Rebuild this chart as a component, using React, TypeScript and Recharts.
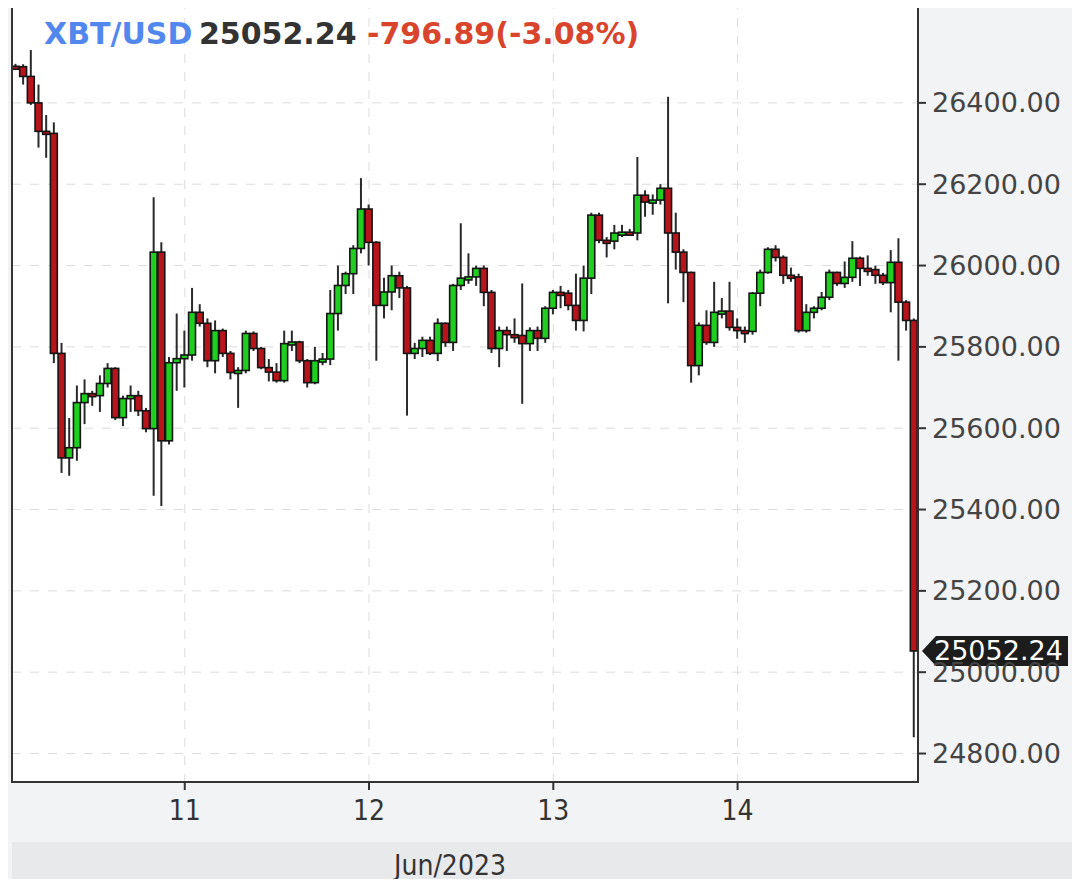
import React from 'react';
import { ComposedChart, Bar, XAxis, YAxis, CartesianGrid, ReferenceLine } from 'recharts';

// hourly candles, Jun 10 02:00 -> Jun 14 23:00
const opens = [
  26490, 26489, 26465, 26400, 26330, 26325, 25784, 25527, 25552, 25663,
  25685, 25680, 25710, 25747, 25626, 25673, 25680, 25643, 25599, 26033,
  25569, 25761, 25771, 25780, 25885, 25858, 25766, 25840, 25784, 25737,
  25742, 25833, 25796, 25749, 25738, 25717, 25808, 25812, 25766, 25712,
  25766, 25770, 25882, 25951, 25980, 26042, 26139, 26057, 25902, 25935,
  25975, 25945, 25784, 25796, 25816, 25784, 25858, 25811, 25951, 25969,
  25972, 25993, 25934, 25796, 25840, 25830, 25828, 25808, 25840, 25821,
  25895, 25934, 25932, 25902, 25865, 25969, 26124, 26062, 26060, 26080,
  26082, 26080, 26173, 26156, 26161, 26190, 26080, 26033, 25983, 25754,
  25853, 25811, 25885, 25888, 25848, 25840, 25838, 25932, 25983, 26040,
  26020, 25976, 25972, 25840, 25885, 25895, 25922, 25983, 25956, 25971,
  26018, 25993, 25990, 25976, 25958, 26008, 25910, 25865,
];
const closes = [
  26488, 26465, 26400, 26330, 26325, 25784, 25527, 25552, 25663, 25685,
  25680, 25710, 25747, 25626, 25673, 25680, 25643, 25599, 26033, 25569,
  25761, 25771, 25780, 25885, 25858, 25766, 25840, 25784, 25737, 25742,
  25833, 25796, 25749, 25738, 25717, 25808, 25812, 25766, 25712, 25766,
  25770, 25882, 25951, 25980, 26042, 26139, 26057, 25902, 25935, 25975,
  25945, 25784, 25796, 25816, 25784, 25858, 25811, 25951, 25969, 25972,
  25993, 25934, 25796, 25840, 25830, 25828, 25808, 25840, 25821, 25895,
  25934, 25932, 25902, 25865, 25969, 26124, 26062, 26060, 26080, 26082,
  26080, 26173, 26156, 26161, 26190, 26080, 26033, 25983, 25754, 25853,
  25811, 25885, 25888, 25848, 25840, 25838, 25932, 25983, 26040, 26020,
  25976, 25972, 25840, 25885, 25895, 25922, 25983, 25956, 25971, 26018,
  25993, 25990, 25976, 25958, 26008, 25910, 25865, 25052.24,
];
const highs = [
  26496, 26495, 26530, 26445, 26370, 26352, 25810, 25625, 25705, 25720,
  25692, 25730, 25760, 25750, 25680, 25705, 25692, 25650, 26168, 26057,
  25775, 25882, 25840, 25945, 25905, 25870, 25865, 25845, 25790, 25750,
  25840, 25838, 25800, 25770, 25760, 25840, 25840, 25815, 25770, 25800,
  25785, 25940, 26000, 25985, 26050, 26215, 26150, 26060, 25970, 26000,
  25985, 25950, 25810, 25825, 25825, 25870, 25860, 25955, 26104, 26030,
  26000, 26000, 25940, 25850, 25850, 25870, 25956, 25848, 25850, 25900,
  25940, 25950, 25940, 25980, 26000, 26130, 26130, 26070, 26100, 26100,
  26090, 26267, 26185, 26175, 26200, 26415, 26130, 26040, 25985, 25860,
  25890, 25960, 25920, 25960, 25870, 25850, 25935, 25990, 26045, 26050,
  26025, 25995, 25980, 25905, 25900, 25935, 25990, 25985, 26010, 26060,
  26022, 26025, 26000, 25982, 26038, 26067, 25915, 25870,
];
const lows = [
  26482, 26445, 26395, 26290, 26265, 25760, 25490, 25483, 25520, 25610,
  25655, 25640, 25700, 25620, 25605, 25640, 25630, 25590, 25434, 25409,
  25560, 25692, 25700, 25766, 25850, 25750, 25735, 25775, 25720, 25650,
  25735, 25790, 25745, 25715, 25712, 25712, 25790, 25760, 25700, 25708,
  25755, 25755, 25840, 25930, 25930, 26030, 26000, 25766, 25870, 25890,
  25920, 25631, 25770, 25775, 25780, 25765, 25800, 25790, 25940, 25955,
  25950, 25900, 25785, 25750, 25790, 25810, 25660, 25790, 25790, 25810,
  25880, 25895, 25890, 25840, 25838, 25930, 26055, 26020, 26040, 26070,
  26075, 26062, 26120, 26125, 26150, 25907, 25990, 25910, 25712, 25730,
  25805, 25800, 25870, 25840, 25820, 25810, 25830, 25900, 25980, 26010,
  25955, 25960, 25835, 25835, 25870, 25890, 25915, 25950, 25945, 25960,
  25950, 25975, 25955, 25952, 25885, 25766, 25840, 24840,
];
// hour index from Jun 10 00:00
const hours = opens.map((_, i) => i + 2);

const dayTicks = [24, 48, 72, 96];
const dayLabels = ['11', '12', '13', '14'];
const yTicks = [24800, 25000, 25200, 25400, 25600, 25800, 26000, 26200, 26400];

const lastPrice = 25052.24;

const data = hours.map((h, i) => ({
  h,
  open: opens[i],
  high: highs[i],
  low: lows[i],
  close: closes[i],
  range: [lows[i], highs[i]],
}));

const Candle = (props: any) => {
  const { x, y, width, height, payload } = props;
  const { open, close, high, low } = payload;
  const top = Math.min(y, y + height);
  const h = Math.abs(height);
  const k = h / (high - low || 1);
  const yOf = (v: number) => top + (high - v) * k;
  const up = close >= open;
  const bTop = yOf(Math.max(open, close));
  const bBot = yOf(Math.min(open, close));
  const cx = x + width / 2;
  return (
    <g>
      <line x1={cx} x2={cx} y1={top} y2={top + h} stroke="#2a2a2a" strokeWidth={2} />
      <rect
        x={x}
        y={bTop}
        width={width}
        height={Math.max(bBot - bTop, 3)}
        fill={up ? '#1fcf1f' : '#b8141c'}
        stroke="#151515"
        strokeWidth={1.6}
      />
    </g>
  );
};

const PriceTag = (props: any) => {
  const { viewBox } = props;
  const y = viewBox.y;
  const x0 = viewBox.x + viewBox.width + 4;
  return (
    <g>
      <polygon
        points={`${x0},${y} ${x0 + 14},${y - 15} ${x0 + 146},${y - 15} ${x0 + 146},${y + 15} ${x0 + 14},${y + 15}`}
        fill="#1c1c1c"
      />
      <text x={x0 + 12} y={y} dominantBaseline="central" fill="#fff" fontSize={27} fontFamily="'DejaVu Sans', sans-serif">
        {lastPrice.toFixed(2)}
      </text>
    </g>
  );
};

const condensed = "'DejaVu Sans Condensed', 'Liberation Sans Narrow', 'DejaVu Sans', sans-serif";

export default function App() {
  return (
    <div style={{ position: 'relative', width: 1080, height: 887, margin: -8, background: '#f2f3f5', overflow: 'hidden' }}>
      <div style={{ position: 'absolute', left: 12, top: 842, width: 1063, height: 45, background: '#e8e9eb' }} />
      <div style={{ position: 'absolute', left: 0, top: 0 }}>
        <ComposedChart width={1080} height={887} data={data} margin={{ top: 0, right: 0, bottom: 0, left: 12 }}>
          <CartesianGrid stroke="#dcdcdc" strokeDasharray="9 9" fill="#ffffff" />
          <XAxis
            dataKey="h"
            type="category"
            ticks={dayTicks}
            interval={0}
            tickFormatter={(v) => dayLabels[dayTicks.indexOf(v)]}
            height={105}
            axisLine={{ stroke: '#333', strokeWidth: 2 }}
            tickLine={{ stroke: '#333', strokeWidth: 2 }}
            tickSize={8}
            tickMargin={10}
            tick={{ fill: '#333', fontSize: 28, fontFamily: condensed }}
          />
          <YAxis
            orientation="right"
            width={162}
            domain={[24730, 26653]}
            ticks={yTicks}
            allowDataOverflow
            tickFormatter={(v) => v.toFixed(2)}
            axisLine={{ stroke: '#333', strokeWidth: 2 }}
            tickLine={{ stroke: '#333', strokeWidth: 2 }}
            tickSize={8}
            tickMargin={6}
            tick={{ fill: '#444', fontSize: 27, fontFamily: "'DejaVu Sans', sans-serif" }}
          />
          <Bar dataKey="range" barSize={8} shape={<Candle />} isAnimationActive={false} />
          <ReferenceLine y={lastPrice} stroke="none" label={PriceTag} />
        </ComposedChart>
      </div>
      <svg width={1080} height={887} style={{ position: 'absolute', left: 0, top: 0, pointerEvents: 'none' }}>
        <rect x={12} y={0} width={906} height={782} fill="none" stroke="#333" strokeWidth={2} />
        <text y={44} fontSize={30} fontWeight="bold" fontFamily="'DejaVu Sans', sans-serif">
          <tspan x={44} fill="#5288ee">XBT/USD</tspan>
          <tspan x={199} fill="#333">25052.24</tspan>
          <tspan x={367} fill="#d8442c">-796.89(-3.08%)</tspan>
        </text>
        <text x={450} y={865} textAnchor="middle" dominantBaseline="central" fontSize={28} fill="#333" fontFamily={condensed}>
          Jun/2023
        </text>
      </svg>
    </div>
  );
}
